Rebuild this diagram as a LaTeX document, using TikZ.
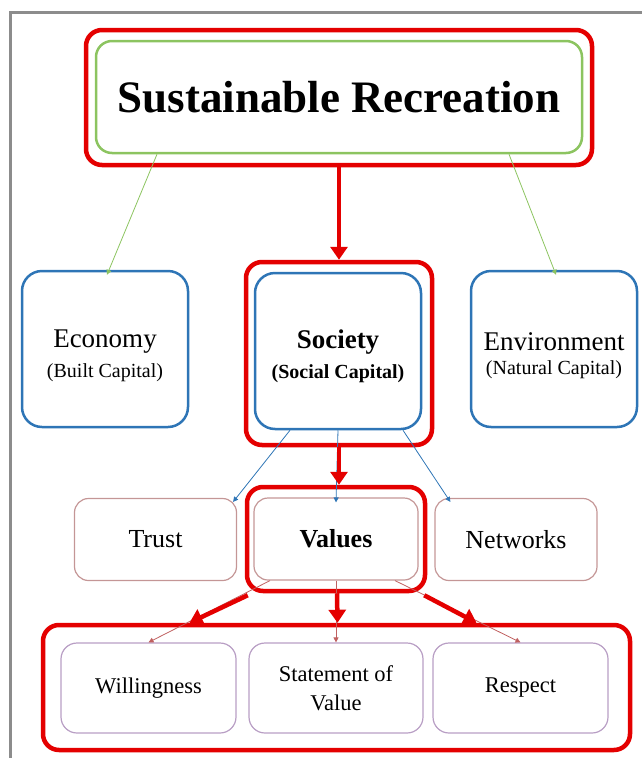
\documentclass[tikz,border=0pt]{standalone}
\usepackage{fontspec}
\setmainfont{Liberation Serif}
\usepackage{tikz}
\usetikzlibrary{positioning,calc,arrows.meta}
\usepackage{xcolor}
\definecolor{framecolor}{RGB}{140, 140, 140}
\definecolor{redcolor}{RGB}{228, 0, 0}
\definecolor{greencolor}{RGB}{140, 196, 96}
\definecolor{bluecolor}{RGB}{46, 117, 182}
\definecolor{trustcolor}{RGB}{196, 150, 150}
\definecolor{valuecolor}{RGB}{184, 158, 196}
\definecolor{thincolor}{RGB}{192, 96, 96}

\begin{document}
\begin{tikzpicture}[
    x=1pt, y=-1pt,
    redbox/.style={rectangle, draw=redcolor, line width=4.5pt, rounded corners=16pt, inner sep=0pt},
    capbox/.style={rectangle, draw=bluecolor, line width=2.5pt, rounded corners=20pt, minimum width=166pt, minimum height=156pt, align=center, inner sep=0pt},
    midbox/.style={rectangle, draw=trustcolor, line width=1.2pt, rounded corners=14pt, minimum width=162pt, minimum height=82pt, align=center, inner sep=0pt, font=\fontsize{26}{30}\selectfont},
    lowbox/.style={rectangle, draw=valuecolor, line width=1.2pt, rounded corners=16pt, minimum width=175pt, minimum height=90pt, align=center, inner sep=0pt, font=\fontsize{22.5}{29}\selectfont},
    bigarrow/.style={draw=redcolor, line width=4.5pt, -{Triangle[width=17pt,length=13pt]}},
    smallarrow/.style={line width=0.8pt, -{Triangle[width=5pt,length=5pt]}}
]
    \useasboundingbox (0,0) rectangle (641,758);

    % Frame
    \draw[framecolor, line width=3pt] (10,770) -- (10,12) -- (650,12);

    % Top
    \node[redbox, minimum width=506pt, minimum height=135pt] (topouter) at (339, 97.5) {};
    \node[rectangle, draw=greencolor, line width=2.5pt, rounded corners=16pt, minimum width=486pt, minimum height=112pt, inner sep=0pt, font=\fontsize{45}{48}\selectfont\bfseries] (sustain) at (339, 97) {Sustainable Recreation};

    % Capitals
    \node[capbox] (economy) at (105, 349) {\fontsize{27}{32}\selectfont\rule{0pt}{31pt}Economy\\[9pt]{\fontsize{20}{24}\selectfont (Built Capital)}};
    \node[redbox, minimum width=186pt, minimum height=183pt] (socouter) at (339, 353.5) {};
    \node[capbox] (society) at (338, 351) {\fontsize{27}{32}\selectfont\bfseries\rule{0pt}{29pt}Society\\[9pt]{\fontsize{20}{24}\selectfont\bfseries (Social Capital)}};
    \node[capbox] (environment) at (554, 349) {\fontsize{27}{32}\selectfont\rule{0pt}{31pt}Environment\\[9pt]{\fontsize{20}{24}\selectfont (Natural Capital)}};

    % Social capital
    \node[midbox] (trust) at (155.5, 539.5) {Trust};
    \node[redbox, minimum width=178pt, minimum height=104pt] (valouter) at (336, 539) {};
    \node[midbox, minimum width=164pt] (values) at (336, 539) {\bfseries Values};
    \node[midbox] (networks) at (516, 539.5) {Networks};

    % Values
    \node[redbox, minimum width=587pt, minimum height=125pt] (lowouter) at (336.5, 687.5) {};
    \node[lowbox] (willing) at (148.5, 688) {Willingness};
    \node[lowbox, minimum width=174pt] (statement) at (336, 688) {Statement of\\Value};
    \node[lowbox] (respect) at (520.5, 688) {Respect};

    % Thin arrows
    \draw[smallarrow, greencolor] ([xshift=-182pt]sustain.south) -- ([xshift=2pt,yshift=-5pt]economy.north);
    \draw[smallarrow, greencolor] ([xshift=170pt]sustain.south) -- ([xshift=2pt,yshift=-5pt]environment.north);
    \draw[smallarrow, bluecolor] ([xshift=-48pt]society.south) -- ([xshift=-4pt,yshift=-4pt]trust.north east);
    \draw[smallarrow, bluecolor] (society.south) -- ([yshift=-5pt]values.north);
    \draw[smallarrow, bluecolor] ([xshift=65pt]society.south) -- ([xshift=16pt,yshift=-4pt]networks.north west);
    \draw[smallarrow, thincolor] ([xshift=-66pt]values.south) -- (willing.north);
    \draw[smallarrow, thincolor] (values.south) -- (statement.north);
    \draw[smallarrow, thincolor] ([xshift=59pt]values.south) -- (respect.north);

    % Red arrows
    \draw[bigarrow] (topouter.south) -- (socouter.north);
    \draw[bigarrow] (socouter.south) -- (socouter.south |- valouter.north);
    \draw[bigarrow] ([xshift=3pt,yshift=-2pt]valouter.south west) -- ([xshift=-147pt]lowouter.north);
    \draw[bigarrow] ([xshift=1pt]valouter.south) -- ([xshift=1pt]lowouter.north);
    \draw[bigarrow] ([xshift=-3pt,yshift=-2pt]valouter.south east) -- ([xshift=140pt]lowouter.north);
\end{tikzpicture}
\end{document}
